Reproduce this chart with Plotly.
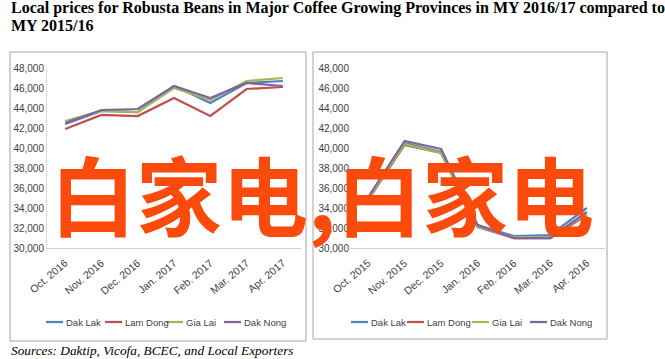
import plotly.graph_objects as go

W, H = 665, 359

months_2017 = ["Oct. 2016", "Nov. 2016", "Dec. 2016", "Jan. 2017", "Feb. 2017", "Mar. 2017", "Apr. 2017"]
months_2016 = ["Oct. 2015", "Nov. 2015", "Dec. 2015", "Jan. 2016", "Feb. 2016", "Mar. 2016", "Apr. 2016"]

provinces = ["Dak Lak", "Lam Dong", "Gia Lai", "Dak Nong"]
colors = ["#4F81BD", "#C0504D", "#9BBB59", "#8064A2"]

# MY 2016/17
dak_lak_17 = [42400, 43700, 43600, 46200, 44500, 46500, 46700]
lam_dong_17 = [41900, 43300, 43200, 45000, 43200, 45900, 46100]
gia_lai_17 = [42700, 43700, 43600, 46000, 44800, 46700, 47000]
dak_nong_17 = [42500, 43800, 43900, 46200, 45000, 46500, 46200]

# MY 2015/16
dak_lak_16 = [35000, 40500, 39600, 32300, 31200, 31300, 34000]
lam_dong_16 = [34800, 40300, 39500, 32100, 31000, 31000, 33300]
gia_lai_16 = [34900, 40400, 39500, 32100, 31100, 31100, 33400]
dak_nong_16 = [35100, 40700, 39900, 32300, 31000, 31000, 33600]

y_ticks = [30000, 32000, 34000, 36000, 38000, 40000, 42000, 44000, 46000, 48000]

series_17 = [dak_lak_17, lam_dong_17, gia_lai_17, dak_nong_17]
series_16 = [dak_lak_16, lam_dong_16, gia_lai_16, dak_nong_16]


def px(x):
    return x / W


def py(y):
    return 1 - y / H


fig = go.Figure()

for name, col, vals in zip(provinces, colors, series_17):
    fig.add_trace(go.Scatter(x=months_2017, y=vals, name=name, mode="lines",
                             line=dict(color=col, width=2.25), xaxis="x", yaxis="y",
                             showlegend=False))
for name, col, vals in zip(provinces, colors, series_16):
    fig.add_trace(go.Scatter(x=months_2016, y=vals, name=name, mode="lines",
                             line=dict(color=col, width=2.25), xaxis="x2", yaxis="y2",
                             showlegend=False))

narrow = "Liberation Sans Narrow, Arial Narrow, sans-serif"
ytickfont = dict(family=narrow, size=10, color="#404040")
xtickfont = dict(family=narrow, size=10.5, color="#404040")

yax = dict(range=[30000, 48000], tickvals=y_ticks, tickformat=",", showgrid=False,
           zeroline=False, tickfont=ytickfont, ticks="", fixedrange=True, automargin=False)
xax = dict(type="category", range=[-0.5, 6.5], tickangle=-40, showgrid=False, zeroline=False,
           showline=True, linecolor="#D0D0D0", linewidth=1, tickfont=xtickfont, ticks="",
           automargin=False, ticklabelstandoff=4)

shapes = [
    dict(type="rect", xref="paper", yref="paper", x0=px(10), x1=px(306), y0=py(341), y1=py(52),
         line=dict(color="#A6A6A6", width=1), layer="below"),
    dict(type="rect", xref="paper", yref="paper", x0=px(313), x1=px(607), y0=py(339), y1=py(52),
         line=dict(color="#A6A6A6", width=1), layer="below"),
]
annotations = []

# manual legends (one per panel)
legend_left_x = [46, 105, 166, 224]
legend_right_x = [351, 407, 472, 530]
for starts, ly in ((legend_left_x, 322), (legend_right_x, 322)):
    for x0, name, col in zip(starts, provinces, colors):
        shapes.append(dict(type="line", xref="paper", yref="paper", x0=px(x0), x1=px(x0 + 17),
                           y0=py(ly), y1=py(ly), line=dict(color=col, width=2.25)))
        annotations.append(dict(text=name, xref="paper", yref="paper", x=px(x0 + 17.5), y=py(ly),
                                xanchor="left", yanchor="middle", showarrow=False,
                                font=dict(family=narrow, size=9.5, color="#404040")))

serif = "Liberation Serif, Times New Roman, serif"
title_lines = ["Local prices for Robusta Beans in Major Coffee Growing Provinces in MY 2016/17 compared to",
               "MY 2015/16"]
for line, yc in zip(title_lines, (8, 25)):
    annotations.append(dict(text="<b>" + line + "</b>", xref="paper", yref="paper", x=px(9), y=py(yc),
                            xanchor="left", yanchor="middle", showarrow=False,
                            font=dict(family=serif, size=16, color="black")))

annotations += [
    dict(text="<i>Sources: Daktip, Vicofa, BCEC, and Local Exporters</i>",
         xref="paper", yref="paper", x=px(9), y=py(350), xanchor="left", yanchor="middle",
         showarrow=False,
         font=dict(family=serif, size=13.3, color="black")),
    dict(text="<b>白家电,白家电</b>",
         xref="paper", yref="paper", x=px(322), y=py(192), xanchor="center", yanchor="middle",
         showarrow=False,
         font=dict(family="Noto Sans CJK SC", size=86, color="#FA4A0C")),
]

fig.update_layout(
    width=W, height=H,
    margin=dict(l=0, r=0, t=0, b=0, autoexpand=False),
    paper_bgcolor="white", plot_bgcolor="white",
    showlegend=False,
    xaxis=dict(domain=[px(47), px(301)], anchor="y", **xax),
    yaxis=dict(domain=[py(248), py(68)], anchor="x", showline=True, linecolor="#D9D9D9", **yax),
    xaxis2=dict(domain=[px(350), px(605)], anchor="y2", **xax),
    yaxis2=dict(domain=[py(248), py(68)], anchor="x2", showline=False, **yax),
    shapes=shapes,
    annotations=annotations,
)

fig.write_html("out.html", config={"displayModeBar": False},
               post_script="document.body.style.margin='0';document.body.style.overflow='hidden';")
